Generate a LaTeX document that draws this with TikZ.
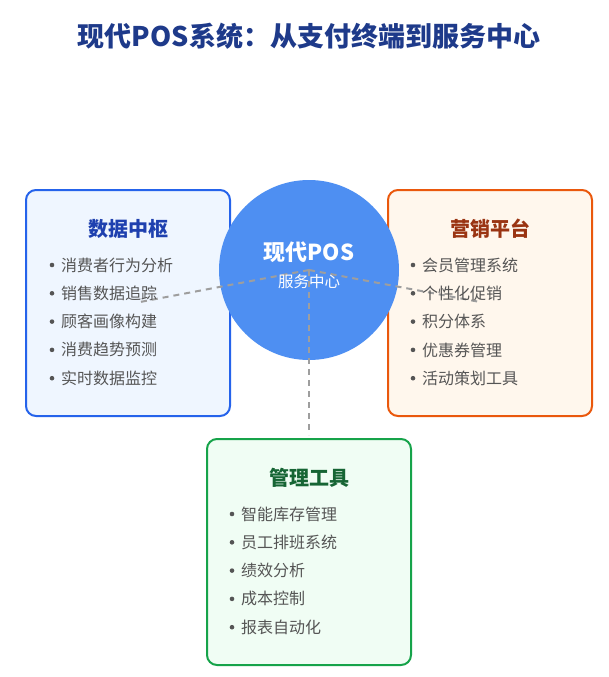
\documentclass[tikz,border=0pt]{standalone}
\usepackage{fontspec}
\setmainfont{Noto Sans CJK SC}
\usepackage{tikz}
\usepackage{xcolor}

\definecolor{titleblue}{HTML}{1E3A8A}
\definecolor{hubblue}{RGB}{78,143,242}
\definecolor{databorder}{HTML}{2563EB}
\definecolor{datafill}{HTML}{EFF6FF}
\definecolor{datatitle}{HTML}{1E40AF}
\definecolor{marketborder}{HTML}{EA580C}
\definecolor{marketfill}{HTML}{FFF7ED}
\definecolor{markettitle}{HTML}{9A3412}
\definecolor{toolborder}{HTML}{16A34A}
\definecolor{toolfill}{HTML}{F0FDF4}
\definecolor{tooltitle}{HTML}{166534}
\definecolor{itemgray}{HTML}{555555}
\definecolor{linkgray}{HTML}{9E9E9E}

\tikzset{
  panel/.style={draw=#1, line width=2pt, rounded corners=10pt,
    minimum width=204pt, minimum height=226pt, inner sep=0pt},
  boxtitle/.style={font=\fontsize{20}{24}\selectfont\bfseries},
  item/.style={anchor=west, inner sep=0pt, text=itemgray, font=\fontsize{16}{19}\selectfont},
  link/.style={draw=linkgray, line width=2pt, dash pattern=on 6pt off 5pt}
}

\begin{document}
\begin{tikzpicture}[x=1pt, y=-1pt]
        \useasboundingbox (0,0) rectangle (608,677);

        % title
        \node[font=\fontsize{27}{32}\selectfont\bfseries, text=titleblue] (title) at (309,36) {现代POS系统：从支付终端到服务中心};

        % three boxes
        \node[panel=databorder, fill=datafill] (data) at (128,303) {};
        \node[panel=marketborder, fill=marketfill] (market) at (490,303) {};
        \node[panel=toolborder, fill=toolfill] (tools) at (309,552) {};

        % centre circle
        \node[circle, fill=hubblue, minimum size=180pt, inner sep=0pt] (hub) at (309,270) {};

        % dashed links
        \coordinate (dataend) at (140,302);
        \coordinate (marketend) at (480,302);
        \coordinate (toolsend) at (309,435);
        \draw[link] (hub.center) -- (dataend);
        \draw[link] (hub.center) -- (marketend);
        \draw[link] (hub.center) -- (toolsend);

        % circle text
        \node[text=white, font=\fontsize{22}{26}\selectfont\bfseries] (hubname) at (309,252) {现代POS};
        \node[text=white, font=\fontsize{15.5}{18}\selectfont] (hubsub) at (309,282) {服务中心};

        % left box
        \node[boxtitle, text=datatitle] (datahead) at (128,229) {数据中枢};
        \foreach \t [count=\i from 0] in {消费者行为分析, 销售数据追踪, 顾客画像构建, 消费趋势预测, 实时数据监控}
        {
        \fill[itemgray] (52, {265+28.3*\i}) circle (2.3pt);
        \node[item] at (61, {265+28.3*\i}) {\t};
        }

        % right box
        \node[boxtitle, text=markettitle] (markethead) at (490,229) {营销平台};
        \foreach \t [count=\i from 0] in {会员管理系统, 个性化促销, 积分体系, 优惠券管理, 活动策划工具}
        {
        \fill[itemgray] (413, {265+28.3*\i}) circle (2.3pt);
        \node[item] at (422, {265+28.3*\i}) {\t};
        }

        % bottom box
        \node[boxtitle, text=tooltitle] (toolshead) at (309,478) {管理工具};
        \foreach \t [count=\i from 0] in {智能库存管理, 员工排班系统, 绩效分析, 成本控制, 报表自动化}
        {
        \fill[itemgray] (232, {514+28.3*\i}) circle (2.3pt);
        \node[item] at (241, {514+28.3*\i}) {\t};
        }

\end{tikzpicture}
\end{document}
